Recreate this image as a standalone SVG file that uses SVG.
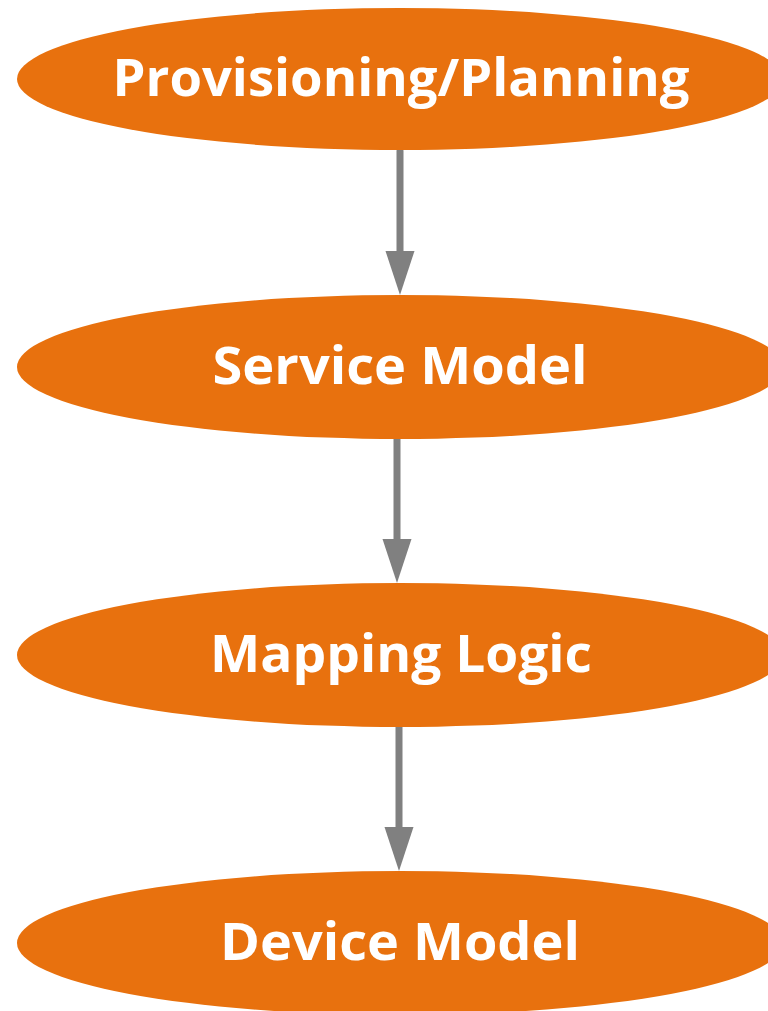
<svg xmlns="http://www.w3.org/2000/svg" width="768" height="1011" viewBox="0 0 768 1011">
<defs>
<style>
.node{fill:#E8710E;}
.label{font-family:"Open Sans","Liberation Sans",sans-serif;font-weight:bold;font-size:52px;fill:#FFFFFF;text-anchor:middle;}
.conn{stroke:#808080;stroke-width:7;stroke-linecap:round;fill:none;}
.head{fill:#808080;}
</style>
</defs>
<rect width="768" height="1011" fill="#FFFFFF"/>
<g id="connectors">
<line class="conn" x1="400" y1="151" x2="400" y2="255"/>
<polygon class="head" points="385.5,251 414.5,251 400,295"/>
<line class="conn" x1="397" y1="439" x2="397" y2="543"/>
<polygon class="head" points="382.5,539 411.5,539 397,583"/>
<line class="conn" x1="399" y1="727" x2="399" y2="831"/>
<polygon class="head" points="384.5,827 413.5,827 399,871"/>
</g>
<g id="node1">
<ellipse class="node" cx="400" cy="79" rx="383" ry="71"/>
<text class="label" x="401" y="96" textLength="577" lengthAdjust="spacingAndGlyphs">Provisioning/Planning</text>
</g>
<g id="node2">
<ellipse class="node" cx="400" cy="367" rx="383" ry="72"/>
<text class="label" x="400" y="384" textLength="375" lengthAdjust="spacingAndGlyphs">Service Model</text>
</g>
<g id="node3">
<ellipse class="node" cx="400" cy="655" rx="383" ry="72"/>
<text class="label" x="401" y="672" textLength="382" lengthAdjust="spacingAndGlyphs">Mapping Logic</text>
</g>
<g id="node4">
<ellipse class="node" cx="400" cy="943" rx="383" ry="72"/>
<text class="label" x="400" y="960" textLength="360" lengthAdjust="spacingAndGlyphs">Device Model</text>
</g>
</svg>
